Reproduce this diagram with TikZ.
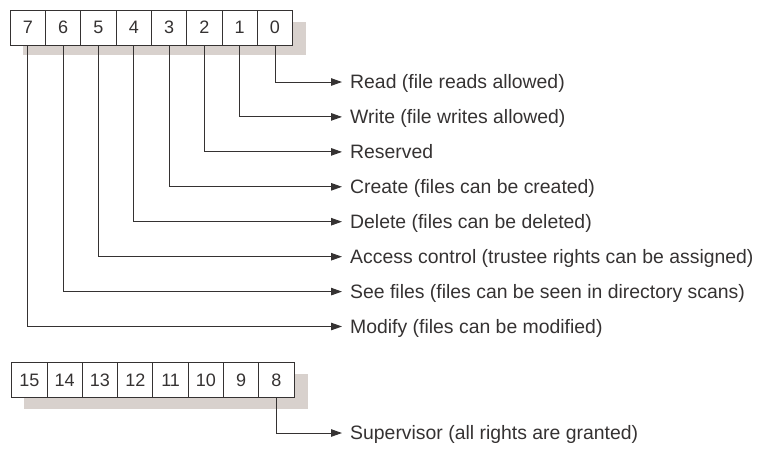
\documentclass[tikz,border=0pt]{standalone}
\usepackage{fontspec}
\setmainfont{Liberation Sans}
\usepackage{xcolor}
\usetikzlibrary{arrows.meta, positioning, calc, backgrounds}

\definecolor{inkgray}{HTML}{353232}
\definecolor{shadowgray}{HTML}{D8D1CD}

\begin{document}
\begin{tikzpicture}[
    x=1pt, y=-1pt,
    bit/.style={rectangle, draw=inkgray, line width=1pt, fill=white, outer sep=0pt,
        minimum width=35.3pt, minimum height=35pt, inner sep=0pt,
        text height=12.9pt, text depth=0pt, text=inkgray,
        font=\fontsize{18}{21}\selectfont},
    right label/.style={anchor=west, inner xsep=8pt, inner ysep=0pt,
        text height=13.9pt, text depth=0pt, text=inkgray,
        font=\fontsize{19.4}{23}\selectfont},
    arrow/.style={-{Triangle[length=11pt, width=7.5pt]}, draw=inkgray, line width=1pt}
]
    \useasboundingbox (0,0) rectangle (760,448);

    % low byte
    \node [bit] at (27.9,27.5) (b7) {7};
    \node [bit, right=0pt of b7] (b6) {6};
    \node [bit, right=0pt of b6] (b5) {5};
    \node [bit, right=0pt of b5] (b4) {4};
    \node [bit, right=0pt of b4] (b3) {3};
    \node [bit, right=0pt of b3] (b2) {2};
    \node [bit, right=0pt of b2] (b1) {1};
    \node [bit, right=0pt of b1] (b0) {0};

    % high byte
    \node [bit] at (29.4,380) (b15) {15};
    \node [bit, right=0pt of b15] (b14) {14};
    \node [bit, right=0pt of b14] (b13) {13};
    \node [bit, right=0pt of b13] (b12) {12};
    \node [bit, right=0pt of b12] (b11) {11};
    \node [bit, right=0pt of b11] (b10) {10};
    \node [bit, right=0pt of b10] (b9) {9};
    \node [bit, right=0pt of b9] (b8) {8};

    \begin{scope}[on background layer]
        \fill [shadowgray] ($(b7.north west)+(13,12)$) rectangle ($(b0.south east)+(13,10)$);
        \fill [shadowgray] ($(b15.north west)+(12,11)$) rectangle ($(b8.south east)+(14,11)$);
    \end{scope}

    % meaning of each bit
    \node [right label] at (342,82) (r0) {Read (file reads allowed)};
    \node [right label] at (342,116.9) (r1) {Write (file writes allowed)};
    \node [right label] at (342,151.9) (r2) {Reserved};
    \node [right label] at (342,186.8) (r3) {Create (files can be created)};
    \node [right label] at (342,221.7) (r4) {Delete (files can be deleted)};
    \node [right label] at (342,256.7) (r5) {Access control (trustee rights can be assigned)};
    \node [right label] at (342,291.6) (r6) {See files (files can be seen in directory scans)};
    \node [right label] at (342,326.5) (r7) {Modify (files can be modified)};
    \node [right label] at (342,433) (r8) {Supervisor (all rights are granted)};

    \draw [arrow] (b0.south) |- (r0.west);
    \draw [arrow] (b1.south) |- (r1.west);
    \draw [arrow] (b2.south) |- (r2.west);
    \draw [arrow] (b3.south) |- (r3.west);
    \draw [arrow] (b4.south) |- (r4.west);
    \draw [arrow] (b5.south) |- (r5.west);
    \draw [arrow] (b6.south) |- (r6.west);
    \draw [arrow] (b7.south) |- (r7.west);
    \draw [arrow] (b8.south) |- (r8.west);
\end{tikzpicture}
\end{document}
